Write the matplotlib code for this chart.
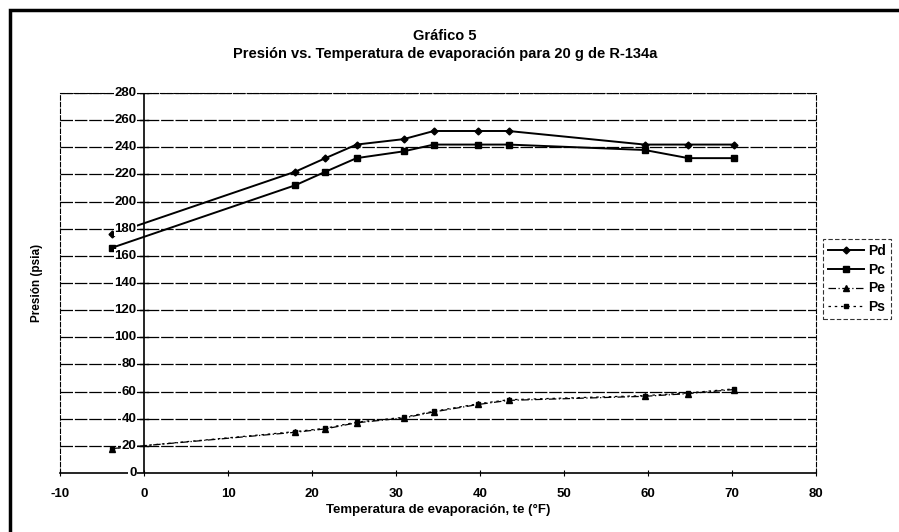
import matplotlib.pyplot as plt
from matplotlib.patches import Rectangle

plt.rcParams['font.family'] = ['Liberation Sans', 'DejaVu Sans']
plt.rcParams['font.weight'] = 'bold'
plt.rcParams['axes.unicode_minus'] = False

# temperatura de evaporacion (°F)
te = [-3.8, 18.0, 21.6, 25.3, 30.9, 34.5, 39.8, 43.4, 59.6, 64.8, 70.2]

# presiones (psia)
pd_vals = [176, 222, 232, 242, 246, 252, 252, 252, 242, 242, 242]
pc_vals = [166, 212, 222, 232, 237, 242, 242, 242, 238, 232, 232]
pe_vals = [18, 30, 32.5, 37, 40.5, 45, 50.5, 53.5, 56.5, 58.5, 61.5]
ps_vals = [18, 30.5, 33, 37.5, 41, 45.5, 51, 54, 57, 59, 62]

y_ticks = list(range(0, 281, 20))
x_ticks = list(range(-10, 81, 10))

fig = plt.figure(figsize=(8.99, 5.32), dpi=100)
W, H = 899, 532

# chart frame (runs off the right and bottom edges)
top = 1 - 10 / H
fig.patches.append(Rectangle((10 / W, -0.1), 1.2, top + 0.1,
                             transform=fig.transFigure, fill=False,
                             ec='black', lw=2.5))

ax = fig.add_axes([60 / W, 1 - 473 / H, (816 - 60) / W, (473 - 93) / H])
ax.set_xlim(-10, 80)
ax.set_ylim(0, 280)

for y in y_ticks[1:]:
    ax.axhline(y, color='black', lw=0.9, ls=(0, (10, 1.5)), zorder=1)

ax.plot(te, pd_vals, color='black', lw=1.4, marker='D', ms=3.5, zorder=3, label='Pd')
ax.plot(te, pc_vals, color='black', lw=1.4, marker='s', ms=5, zorder=3, label='Pc')
ax.plot(te, pe_vals, color='black', lw=0.9, ls=(0, (6, 2, 1, 2)), marker='^',
        ms=4, zorder=3, label='Pe')
ax.plot(te, ps_vals, color='black', lw=0.9, ls=(0, (2, 3)), marker='s', ms=2.5,
        zorder=3, label='Ps')

for side in ['top', 'right', 'left']:
    ax.spines[side].set_linestyle((0, (4, 2)))
    ax.spines[side].set_linewidth(0.8)
ax.spines['bottom'].set_linewidth(1.2)

# y axis line at x = 0
ax.axvline(0, color='black', lw=1.2, zorder=2)
ax.set_yticks(y_ticks)
ax.set_yticklabels([])
for y in y_ticks:
    ax.plot([-0.5, 0.5], [y, y], color='black', lw=1, zorder=2)
    ax.text(-0.9, y, str(y), ha='right', va='center', fontsize=9.5,
            fontweight='bold', zorder=4,
            bbox=dict(fc='white', ec='none', pad=0.6))
ax.tick_params(axis='y', length=0)

ax.set_xticks(x_ticks)
ax.tick_params(axis='x', direction='inout', length=4, labelsize=9.5, pad=9)
for lbl in ax.get_xticklabels():
    lbl.set_fontweight('bold')

ax.set_xlabel('Temperatura de evaporación, te (°F)', fontsize=9.5,
              fontweight='bold', labelpad=3)
fig.text(37 / W, 1 - 283 / H, 'Presión (psia)', rotation=90, ha='center',
         va='center', fontsize=8.5, fontweight='bold')

fig.text(445 / W, 1 - 36 / H, 'Gráfico 5', ha='center', va='center',
         fontsize=10.5, fontweight='bold')
fig.text(445 / W, 1 - 54 / H,
         'Presión vs. Temperatura de evaporación para 20 g de R-134a',
         ha='center', va='center', fontsize=10.5, fontweight='bold')

leg = fig.legend(loc='center', bbox_to_anchor=(857 / W, 1 - 279 / H),
                 frameon=True, fancybox=False, fontsize=10, handlelength=2.6,
                 handletextpad=0.3, borderpad=0.35, labelspacing=0.35)
leg.get_frame().set_edgecolor('black')
leg.get_frame().set_linestyle((0, (4, 2)))
leg.get_frame().set_linewidth(0.8)
for t in leg.get_texts():
    t.set_fontweight('bold')

fig.savefig('out.png', dpi=100)
